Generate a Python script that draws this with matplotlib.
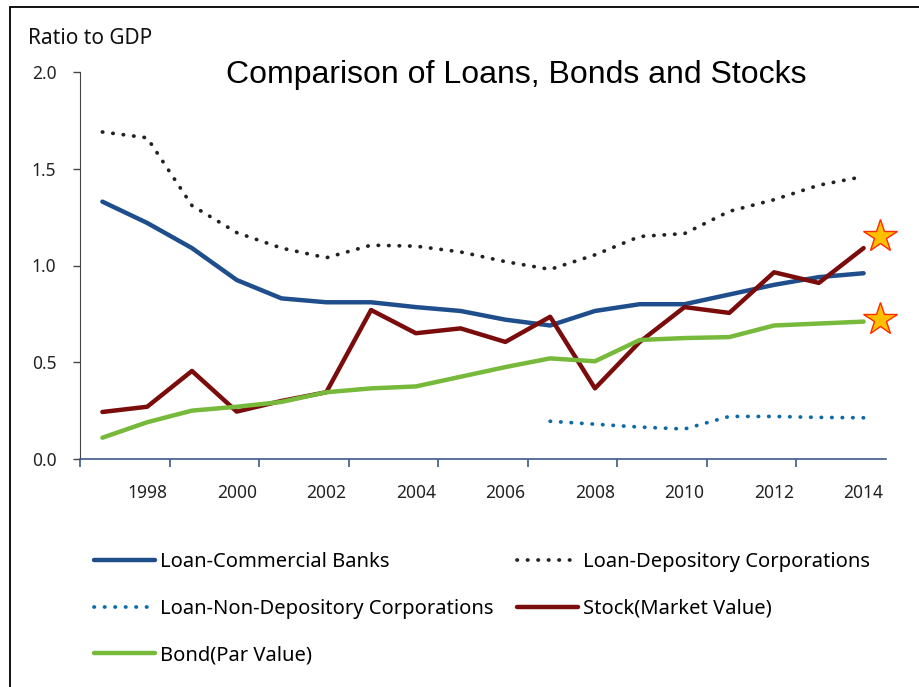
import numpy as np
import matplotlib
matplotlib.use("Agg")
import matplotlib.pyplot as plt
import matplotlib.transforms as mtransforms
from matplotlib.patches import Rectangle

years = list(range(1997, 2015))
commercial_banks = [1.33, 1.22, 1.09, 0.925, 0.83, 0.81, 0.81, 0.785, 0.765, 0.72,
                    0.69, 0.765, 0.80, 0.80, 0.85, 0.90, 0.94, 0.96]
depository = [1.69, 1.66, 1.31, 1.17, 1.09, 1.04, 1.105, 1.10, 1.07, 1.02,
              0.98, 1.055, 1.15, 1.165, 1.28, 1.34, 1.415, 1.46]
nondep_years = list(range(2007, 2015))
non_depository = [0.195, 0.18, 0.165, 0.155, 0.22, 0.22, 0.215, 0.213]
stock = [0.243, 0.27, 0.455, 0.245, 0.30, 0.345, 0.77, 0.65, 0.675, 0.605,
         0.735, 0.365, 0.605, 0.785, 0.755, 0.965, 0.91, 1.09]
bond = [0.11, 0.19, 0.25, 0.27, 0.295, 0.345, 0.365, 0.375, 0.425, 0.475,
        0.52, 0.505, 0.615, 0.625, 0.63, 0.69, 0.70, 0.71]
year_labels = [str(y) for y in years[1::2]]

font = ["Noto Sans", "DejaVu Sans"]
plt.rcParams['font.family'] = font

fig = plt.figure(figsize=(9.19, 6.87), dpi=100)
ax = fig.add_axes([80/919, 1-459/687, 806/919, (459-72)/687])

x = np.arange(len(years))
xn = np.array([years.index(y) for y in nondep_years])
dots = (0, (0.1, 2.7))

l1, = ax.plot(x, commercial_banks, color="#1f4e8c", lw=3.2, solid_capstyle='round',
              label="Loan-Commercial Banks")
l2, = ax.plot(x, depository, color="#222222", lw=2.7, ls=dots, dash_capstyle='round',
              label="Loan-Depository Corporations")
l3, = ax.plot(xn, non_depository, color="#0e6aa6", lw=2.7, ls=dots, dash_capstyle='round',
              label="Loan-Non-Depository Corporations")
l4, = ax.plot(x, stock, color="#7a0c0c", lw=3.2, solid_capstyle='round',
              label="Stock(Market Value)")
l5, = ax.plot(x, bond, color="#77b93a", lw=3.2, solid_capstyle='round',
              label="Bond(Par Value)")

# stars marking the last stock and bond values
for vals, dy in [(stock, 12), (bond, 3)]:
    tr = mtransforms.offset_copy(ax.transData, fig=fig, x=16, y=dy, units='dots')
    ax.plot(x[-1], vals[-1], marker='*', ms=25, mfc="#ffc000", mec="#ff2a00",
            mew=1, transform=tr, clip_on=False, zorder=5)

ax.set_xlim(-0.5, len(years) - 0.5)
ax.set_ylim(0, 2.0)
ax.set_yticks(np.arange(0, 2.01, 0.5))
ax.set_yticklabels([f"{v:.1f}" for v in np.arange(0, 2.01, 0.5)])
ax.set_xticks(np.arange(-0.5, 16, 2))
ax.set_xticklabels([])
ax.set_xticks(x[1::2], minor=True)
ax.set_xticklabels(year_labels, minor=True)
ax.tick_params(axis='x', which='major', length=6, width=1.2, color="#3d5a8a", direction='out')
ax.tick_params(axis='x', which='minor', length=0, pad=18, labelsize=12.5, labelcolor="#222222")
ax.tick_params(axis='y', length=5, width=1, color="#444444", pad=12, labelsize=12.5,
               labelcolor="#222222")
ax.spines['top'].set_visible(False)
ax.spines['right'].set_visible(False)
ax.spines['left'].set_color("#444444")
ax.spines['bottom'].set_color("#3d5a8a")
ax.spines['bottom'].set_linewidth(1.2)

fig.text(28/919, 1-38/687, "Ratio to GDP", fontsize=15, va='center', ha='left',
         color="#111111")
fig.text(516/919, 1-75/687, "Comparison of Loans, Bonds and Stocks", fontsize=23,
         family="Liberation Sans", va='center', ha='center')

fig.legend([l1, l3, l5, l2, l4], [h.get_label() for h in [l1, l3, l5, l2, l4]],
           ncol=2, loc='upper left', bbox_to_anchor=(76/919, 1-534/687),
           frameon=False, fontsize=14.5, handlelength=3.0, handletextpad=0.25,
           columnspacing=1.2, labelspacing=1.32)

fig.patches.append(Rectangle((10/919, -0.5), 2, 0.5 + 1 - 7/687, transform=fig.transFigure,
                             fill=False, ec="black", lw=1.3))

fig.savefig("out.png", dpi=100)
